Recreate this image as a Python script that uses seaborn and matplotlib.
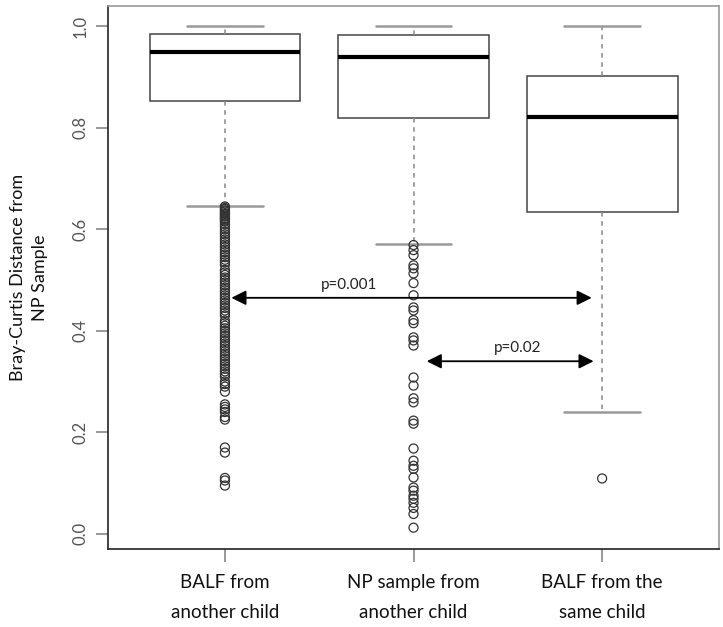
import pandas as pd
import matplotlib
matplotlib.use("Agg")
import matplotlib.pyplot as plt
import seaborn as sns

# groups and box statistics
groups = ["BALF from\nanother child", "NP sample from\nanother child", "BALF from the\nsame child"]
whis_hi = [1.0, 1.0, 1.0]
q3 = [0.985, 0.983, 0.902]
median = [0.950, 0.940, 0.821]
q1 = [0.852, 0.820, 0.634]
whis_lo = [0.646, 0.571, 0.239]

# outliers per group
out_balf_other = [0.645, 0.642, 0.64, 0.637, 0.635, 0.632, 0.63, 0.627, 0.625, 0.622,
                  0.62, 0.617, 0.615, 0.61, 0.605, 0.60, 0.595, 0.59, 0.585, 0.58,
                  0.575, 0.57, 0.565, 0.56, 0.555, 0.55, 0.545, 0.54, 0.535, 0.53,
                  0.52, 0.515, 0.51, 0.505, 0.50, 0.495, 0.49, 0.485, 0.48, 0.475,
                  0.47, 0.465, 0.46, 0.455, 0.45, 0.445, 0.44, 0.435, 0.43, 0.42,
                  0.415, 0.41, 0.405, 0.40, 0.395, 0.39, 0.385, 0.38, 0.375, 0.37,
                  0.365, 0.36, 0.355, 0.35, 0.345, 0.34, 0.335, 0.33, 0.325, 0.32,
                  0.315, 0.31, 0.30, 0.295, 0.29, 0.28, 0.255, 0.25, 0.245, 0.24,
                  0.23, 0.225, 0.17, 0.16, 0.11, 0.105, 0.095]
out_np_other = [0.569, 0.559, 0.549, 0.529, 0.523, 0.513, 0.494, 0.470, 0.446, 0.440,
                0.421, 0.415, 0.387, 0.381, 0.371, 0.308, 0.292, 0.267, 0.259, 0.223,
                0.217, 0.168, 0.144, 0.134, 0.128, 0.111, 0.091, 0.085, 0.075, 0.069,
                0.061, 0.051, 0.039, 0.012]
out_balf_same = [0.109]

# comparisons: (x start, x end, y, label, label x)
comparisons = [(0.034, 1.945, 0.465, "p=0.001", 0.66),
               (1.07, 1.955, 0.340, "p=0.02", 1.55)]

ylabel = "Bray-Curtis Distance from\nNP Sample"
yticks = [0.0, 0.2, 0.4, 0.6, 0.8, 1.0]

sns.set_theme(style="white")
plt.rcParams["font.family"] = ["Lato", "DejaVu Sans"]

fig = plt.figure(figsize=(7.23, 6.27), dpi=100)
ax = fig.add_axes([0.1494, 0.1244, 0.8451, 0.866])

# outliers via seaborn
fliers = pd.DataFrame({
    "group": [groups[0]] * len(out_balf_other) + [groups[1]] * len(out_np_other)
             + [groups[2]] * len(out_balf_same),
    "dist": out_balf_other + out_np_other + out_balf_same,
})
sns.stripplot(data=fliers, x="group", y="dist", order=groups, jitter=False,
              marker="o", size=6.5, facecolors="none", edgecolor="#333333",
              linewidth=0.9, color="#333333", ax=ax, zorder=3)
for c in ax.collections:
    c.set_facecolor("none")
    c.set_edgecolor("#333333")
    c.set_linewidth(0.9)

stats = []
for i in range(len(groups)):
    stats.append(dict(med=median[i], q1=q1[i], q3=q3[i], whislo=whis_lo[i],
                      whishi=whis_hi[i], fliers=[]))
ax.bxp(stats, positions=range(len(groups)), widths=0.8, showfliers=False,
       manage_ticks=False, patch_artist=True,
       boxprops=dict(facecolor="white", edgecolor="#444444", linewidth=1.1),
       medianprops=dict(color="black", linewidth=3),
       whiskerprops=dict(color="#888888", linewidth=1.1, linestyle=(0, (3, 3))),
       capprops=dict(color="#999999", linewidth=1.8), capwidths=0.4)

for x0, x1, y, lab, lx in comparisons:
    ax.annotate("", xy=(x1, y), xytext=(x0, y),
                arrowprops=dict(arrowstyle="<|-|>", color="black", lw=1.3,
                                mutation_scale=22, shrinkA=0, shrinkB=0))
    ax.text(lx, y + 0.012, lab, ha="center", va="bottom", fontsize=11, color="#222222")

ax.set_xlim(-0.62, 2.62)
ax.set_ylim(-0.03, 1.04)
ax.set_xticks(range(len(groups)))
ax.set_xticklabels(groups, fontsize=13.5, color="#111111", linespacing=1.95)
ax.set_yticks(yticks)
ax.set_yticklabels([f"{t:.1f}" for t in yticks], rotation=90, va="center",
                   fontsize=12, color="#555555")
ax.tick_params(axis="both", length=9, width=1.2, color="#888888", left=True, bottom=True)
ax.tick_params(axis="x", pad=9)
ax.tick_params(axis="y", pad=5)
ax.set_xlabel("")
ax.set_ylabel(ylabel, fontsize=13, color="#111111", labelpad=18, linespacing=1.4)

for side in ["left", "bottom"]:
    ax.spines[side].set_color("#222222")
    ax.spines[side].set_linewidth(1.2)
for side in ["top", "right"]:
    ax.spines[side].set_color("#999999")
    ax.spines[side].set_linewidth(1.2)

fig.savefig("out.png", dpi=100)
